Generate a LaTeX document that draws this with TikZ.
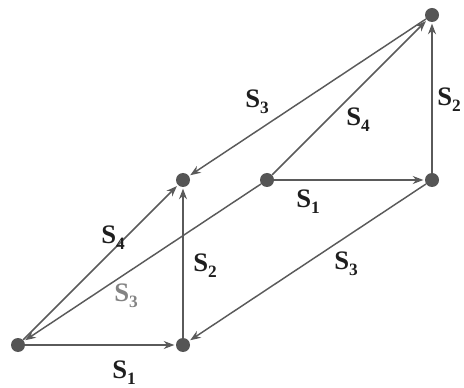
\documentclass[tikz,border=0pt]{standalone}
\usepackage{fontspec}
\setmainfont{Liberation Serif}
\usetikzlibrary{arrows.meta}
\definecolor{ln}{HTML}{5a5a5a}
\definecolor{dot}{HTML}{555555}
\definecolor{lab}{HTML}{1e1e1e}
\tikzset{
  vert/.style={circle,fill=dot,inner sep=0pt,minimum size=10.5pt},
  edge/.style={draw=ln,line width=1.1pt,-{Stealth[length=8pt,width=6pt]},shorten >=1pt},
  lbl/.style={text=lab,font=\fontsize{20}{20}\selectfont\bfseries,inner sep=0pt},
}
\newcommand{\Sl}[1]{S\raisebox{-0.5ex}{\fontsize{13}{13}\selectfont\bfseries #1}}
\begin{document}
\begin{tikzpicture}[x=0.75pt,y=-0.75pt]
\useasboundingbox (0,0) rectangle (464,388);
\node[vert] (A) at (18,345) {};
\node[vert] (B) at (183,345) {};
\node[vert] (C) at (183,180) {};
\node[vert] (D) at (267,180) {};
\node[vert] (E) at (432,180) {};
\node[vert] (F) at (432,15) {};
\draw[edge] (A) -- (B);
\draw[edge] (B) -- (C);
\draw[edge] (A) -- (C);
\draw[edge] (D) -- (A);
\draw[edge] (E) -- (B);
\draw[edge] (D) -- (E);
\draw[edge] (E) -- (F);
\draw[edge] (D) -- (F);
\draw[edge] (F) -- (C);
\node[lbl] (l1) at (124,373) {\Sl{1}};
\node[lbl] (l2) at (205,266) {\Sl{2}};
\node[lbl] (l3) at (113,238) {\Sl{4}};
\node[lbl,text=ln!75] (l4) at (126,296) {\Sl{3}};
\node[lbl] (l5) at (346,264) {\Sl{3}};
\node[lbl] (l6) at (308,202) {\Sl{1}};
\node[lbl] (l7) at (358,120) {\Sl{4}};
\node[lbl] (l8) at (257,102) {\Sl{3}};
\node[lbl] (l9) at (449,100) {\Sl{2}};
\end{tikzpicture}
\end{document}
